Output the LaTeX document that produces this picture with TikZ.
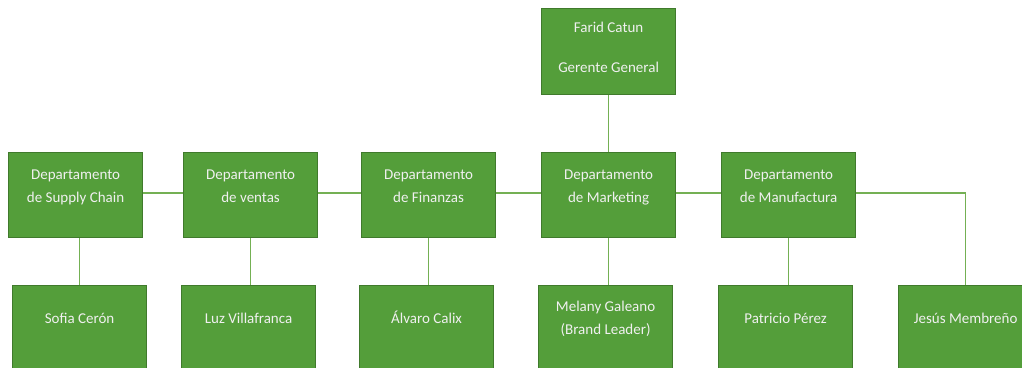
\documentclass[tikz,border=0pt]{standalone}
\usepackage{fontspec}
\setmainfont{Carlito}
\usepackage{tikz}

\definecolor{verde}{RGB}{84,158,58}
\definecolor{verdeborde}{RGB}{64,122,44}
\definecolor{verdelinea}{RGB}{116,176,84}

% texto de caja: alto, espacio arriba, lineas
\newcommand{\caja}[3]{\parbox[c][#1][t]{134pt}{\centering\vspace*{#2}\rule{0pt}{13pt}#3}}

\begin{document}
\begin{tikzpicture}[x=1pt,y=-1pt,
	puesto/.style={draw=verdeborde,line width=1.2pt,fill=verde,text=white!94!black,
		inner sep=0pt,anchor=north west,font=\fontsize{15}{23}\selectfont},
	enlace/.style={verdelinea,line width=1.3pt}]
	\useasboundingbox (0,0) rectangle (1022,367);
	% gerencia
	\node[puesto] (gerente) at (541,8) {\caja{86pt}{11pt}{Farid Catun\\[17pt]Gerente General}};
	% departamentos
	\node[puesto] (supply) at (8,152) {\caja{85pt}{14pt}{Departamento\\de Supply Chain}};
	\node[puesto] (ventas) at (183,152) {\caja{85pt}{14pt}{Departamento\\de ventas}};
	\node[puesto] (finanzas) at (361,152) {\caja{85pt}{14pt}{Departamento\\de Finanzas}};
	\node[puesto] (marketing) at (541,152) {\caja{85pt}{14pt}{Departamento\\de Marketing}};
	\node[puesto] (manufactura) at (721,152) {\caja{85pt}{14pt}{Departamento\\de Manufactura}};
	% personas
	\node[puesto] (sofia) at (12,285) {\caja{90pt}{25pt}{Sofia Cerón}};
	\node[puesto] (luz) at (181,285) {\caja{90pt}{25pt}{Luz Villafranca}};
	\node[puesto] (alvaro) at (359,285) {\caja{90pt}{25pt}{Álvaro Calix}};
	\node[puesto] (melany) at (538,285) {\caja{90pt}{13pt}{Melany Galeano\\(Brand Leader)}};
	\node[puesto] (patricio) at (718,285) {\caja{90pt}{25pt}{Patricio Pérez}};
	\node[puesto] (jesus) at (898,285) {\caja{90pt}{25pt}{Jesús Membreño}};

	\draw[enlace] (gerente.south) -- (marketing.north);
	\draw[enlace] ([yshift=2pt]supply.east) -- ([yshift=2pt]ventas.west);
	\draw[enlace] ([yshift=2pt]ventas.east) -- ([yshift=2pt]finanzas.west);
	\draw[enlace] ([yshift=2pt]finanzas.east) -- ([yshift=2pt]marketing.west);
	\draw[enlace] ([yshift=2pt]marketing.east) -- ([yshift=2pt]manufactura.west);
	\draw[enlace] ([yshift=2pt]manufactura.east) -| (jesus.north);
	\draw[enlace] (sofia.north |- supply.south) -- (sofia.north);
	\draw[enlace] (ventas.south) -- (ventas.south |- luz.north);
	\draw[enlace] (finanzas.south) -- (finanzas.south |- alvaro.north);
	\draw[enlace] (marketing.south) -- (marketing.south |- melany.north);
	\draw[enlace] (manufactura.south) -- (manufactura.south |- patricio.north);
\end{tikzpicture}
\end{document}
